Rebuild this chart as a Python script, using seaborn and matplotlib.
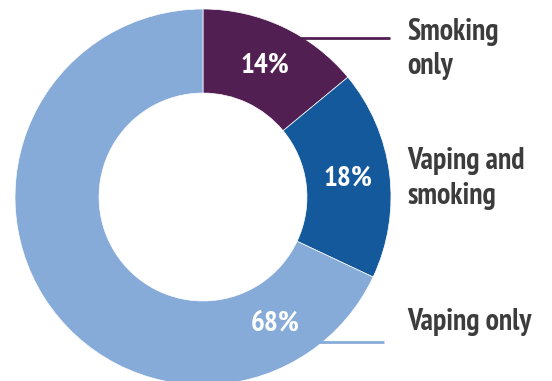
import numpy as np
import matplotlib
matplotlib.use("Agg")
import matplotlib.pyplot as plt
from matplotlib import font_manager
import seaborn as sns

categories = ["Smoking only", "Vaping and smoking", "Vaping only"]
values = [14, 18, 68]
pct_labels = ["14%", "18%", "68%"]
label_lines = [["Smoking", "only"], ["Vaping and", "smoking"], ["Vaping only"]]
colors = ["#521f52", "#15599d", "#87abd9"]

sns.set_theme(style="white")
names = {f.name for f in font_manager.fontManager.ttflist}
prefs = ["PT Sans Narrow", "Fira Sans Condensed", "Open Sans Condensed", "Noto Sans Condensed",
         "Asap Condensed", "Barlow Condensed", "Archivo Narrow", "DejaVu Sans"]
font = next(p for p in prefs if p in names or p == "DejaVu Sans")
plt.rcParams["font.family"] = [font, "DejaVu Sans"]

W, H = 552, 381
cx, cy, R = 203, 197, 188
fig = plt.figure(figsize=(W / 100, H / 100), dpi=100)
ax = fig.add_axes([0, 0, 1, 1])

wedges, _ = ax.pie(values, colors=colors, startangle=90, counterclock=False,
                   radius=1.0, wedgeprops=dict(width=0.447, linewidth=0.5, edgecolor="white"))
ax.set_xlim(-cx / R, (W - cx) / R)
ax.set_ylim(-(H - cy) / R, cy / R)
ax.set_aspect("auto")
ax.axis("off")

# percentage labels
label_r = 0.775
for i, (w, lab) in enumerate(zip(wedges, pct_labels)):
    ang = (w.theta1 + w.theta2) / 2
    if i == 2:
        ang = -60.5
    a = np.deg2rad(ang)
    ax.text(label_r * np.cos(a), label_r * np.sin(a), lab, color="white",
            fontsize=21, fontweight="bold", ha="center", va="center")

def px2y(p):
    return (cy - p) / R

# leader lines
for yp, xend, col in [(38, 390, colors[0]), (342, 384, colors[2])]:
    yd = px2y(yp)
    xs = np.sqrt(max(0, 1 - yd ** 2)) - 0.02
    ax.plot([xs, (xend - cx) / R], [yd, yd], color=col, lw=2, solid_capstyle="butt")

# category labels
tx = (407 - cx) / R
baselines = [[40, 74], [169, 204], [330]]
for lines, bls in zip(label_lines, baselines):
    for t, yp in zip(lines, bls):
        ax.text(tx, px2y(yp), t, color="#3c3c3c", fontsize=21.5, fontweight="bold",
                ha="left", va="baseline")

fig.savefig("out.png", dpi=100, facecolor="white")
